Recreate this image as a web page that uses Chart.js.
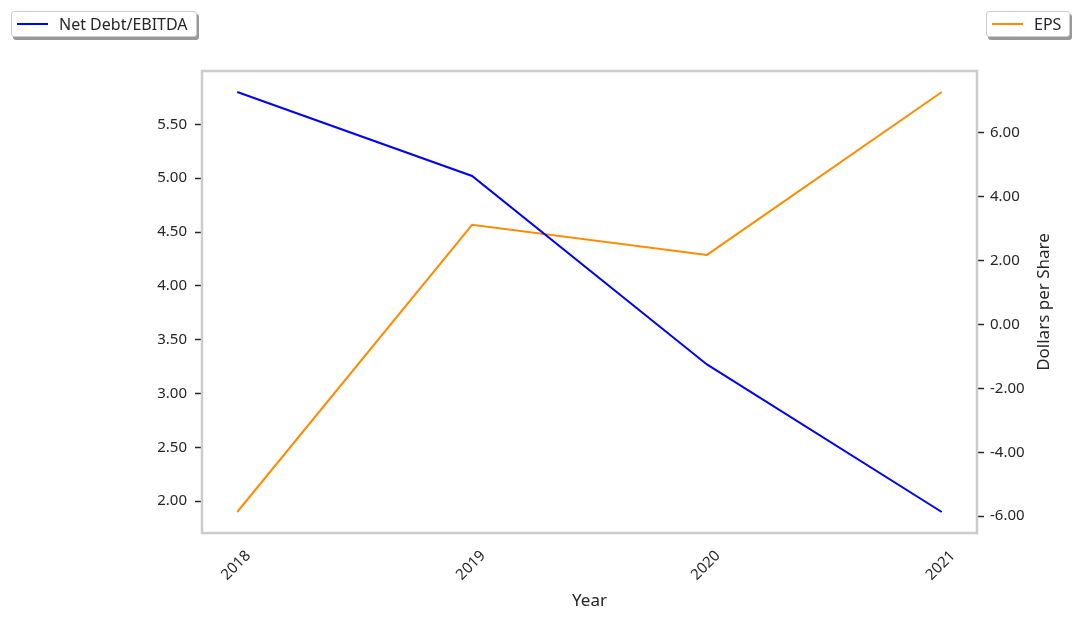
<!DOCTYPE html>
<html>
<head>
<meta charset="utf-8">
<script src="https://cdn.jsdelivr.net/npm/chart.js@4/dist/chart.umd.min.js"></script>
<style>
  html, body { margin: 0; padding: 0; background: #fff; }
  #wrap { position: relative; width: 1078px; height: 618px; }
  .legend {
    position: absolute; top: 11px; height: 26px; box-sizing: border-box;
    background: #fff; border: 1px solid #ccc; border-radius: 3px;
    box-shadow: 2px 3px 0 #999;
    font: 16px "Noto Sans", sans-serif; color: #262626;
    display: flex; align-items: center; white-space: nowrap;
  }
  .legend .swatch { display: inline-block; width: 31px; height: 2px; margin: 0 11px 0 5px; }
</style>
</head>
<body>
<div id="wrap">
  <canvas id="chart" width="1078" height="618"></canvas>
  <div class="legend" id="legLeft" style="left:11px; width:186px;"><span class="swatch" style="background:#0000ff"></span>Net Debt/EBITDA</div>
  <div class="legend" id="legRight" style="left:986px; width:84px;"><span class="swatch" style="background:#ff8c00"></span>EPS</div>
</div>
<script>
const years = [2018, 2019, 2020, 2021];
const netDebtEbitda = [5.80, 5.02, 3.27, 1.90];
const eps = [-5.87, 3.12, 2.18, 7.28];

const leftTicks = [2.0, 2.5, 3.0, 3.5, 4.0, 4.5, 5.0, 5.5];
const rightTicks = [-6, -4, -2, 0, 2, 4, 6];

const TEXT = "#262626";
const FONT = "'Noto Sans', sans-serif";

// matplotlib-like 5% margins
function padRange(vals, frac) {
  const lo = Math.min(...vals), hi = Math.max(...vals);
  const m = (hi - lo) * frac;
  return { min: lo - m, max: hi + m };
}
const xr = padRange(years, 0.05);
const lr = padRange(netDebtEbitda, 0.05);
const rr = padRange(eps, 0.05);

const frame = {
  id: "frame",
  afterDraw(chart) {
    const { ctx, chartArea: a } = chart;
    ctx.save();
    ctx.strokeStyle = "#cccccc";
    ctx.lineWidth = 2.5;
    ctx.strokeRect(a.left, a.top, a.right - a.left, a.bottom - a.top);
    // right axis title, reading bottom to top
    ctx.fillStyle = TEXT;
    ctx.font = "17px " + FONT;
    ctx.translate(1044, (a.top + a.bottom) / 2);
    ctx.rotate(-Math.PI / 2);
    ctx.textAlign = "center";
    ctx.textBaseline = "middle";
    ctx.fillText("Dollars per Share", 0, 0);
    ctx.restore();
  }
};

const ctx = document.getElementById("chart").getContext("2d");
new Chart(ctx, {
  type: "line",
  data: {
    datasets: [
      {
        label: "Net Debt/EBITDA",
        data: years.map((y, i) => ({ x: y, y: netDebtEbitda[i] })),
        borderColor: "#0000ff",
        borderWidth: 2,
        pointRadius: 0,
        tension: 0,
        yAxisID: "y"
      },
      {
        label: "EPS",
        data: years.map((y, i) => ({ x: y, y: eps[i] })),
        borderColor: "#ff8c00",
        borderWidth: 2,
        pointRadius: 0,
        tension: 0,
        yAxisID: "y1"
      }
    ]
  },
  options: {
    responsive: false,
    animation: false,
    layout: { padding: { top: 71, left: 0, right: 0, bottom: 0 } },
    plugins: { legend: { display: false }, tooltip: { enabled: false } },
    scales: {
      x: {
        type: "linear",
        min: xr.min, max: xr.max,
        afterBuildTicks: (s) => { s.ticks = years.map(v => ({ value: v })); },
        afterFit: (s) => { s.height = 85; },
        grid: { display: false, drawTicks: false },
        border: { display: false },
        ticks: {
          minRotation: 45, maxRotation: 45,
          labelOffset: 11, padding: 14,
          color: TEXT, font: { family: FONT, size: 15 },
          callback: (v) => String(v)
        },
        title: { display: true, text: "Year", color: TEXT, font: { family: FONT, size: 17 }, padding: { top: 0, bottom: 7 } }
      },
      y: {
        position: "left",
        min: lr.min, max: lr.max,
        afterBuildTicks: (s) => { s.ticks = leftTicks.map(v => ({ value: v })); },
        afterFit: (s) => { s.width = 202; },
        grid: { drawOnChartArea: false, drawTicks: true, tickLength: 7, tickColor: TEXT, tickWidth: 1.5 },
        border: { display: false },
        ticks: { color: TEXT, font: { family: FONT, size: 15 }, padding: 8, callback: (v) => v.toFixed(2) }
      },
      y1: {
        position: "right",
        min: rr.min, max: rr.max,
        afterBuildTicks: (s) => { s.ticks = rightTicks.map(v => ({ value: v })); },
        afterFit: (s) => { s.width = 101; },
        grid: { drawOnChartArea: false, drawTicks: true, tickLength: 7, tickColor: TEXT, tickWidth: 1.5 },
        border: { display: false },
        ticks: { color: TEXT, font: { family: FONT, size: 15 }, padding: 6, callback: (v) => v.toFixed(2) }
      }
    }
  },
  plugins: [frame]
});
</script>
</body>
</html>
